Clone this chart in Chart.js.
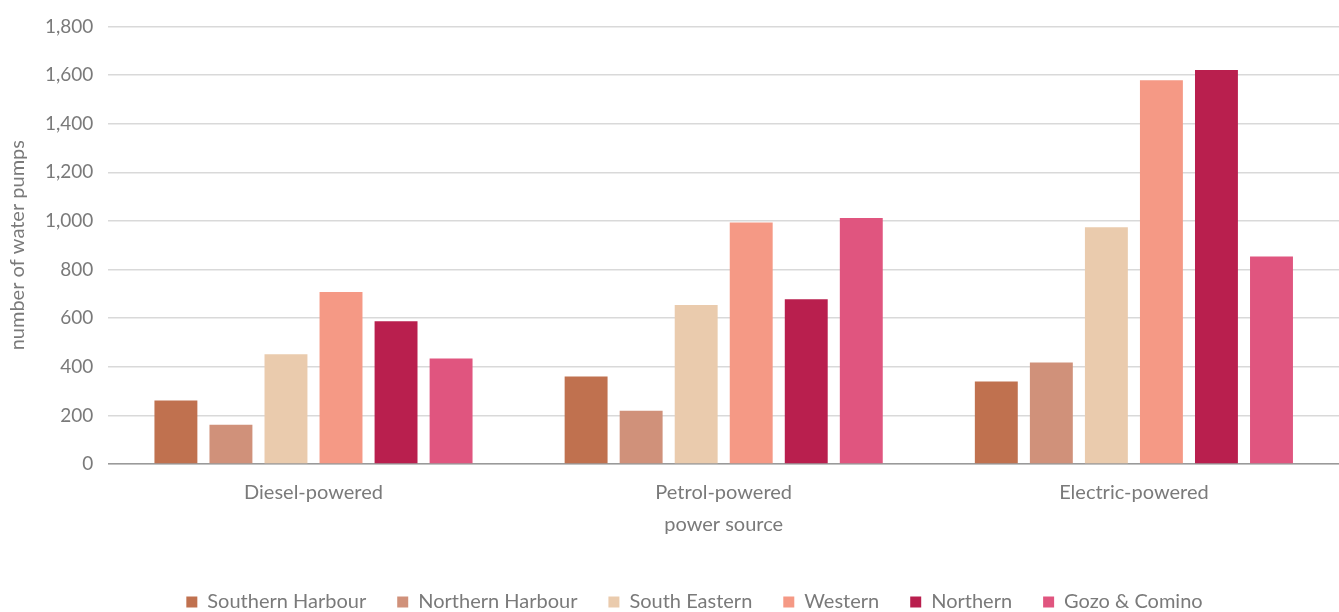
<!DOCTYPE html>
<html>
<head>
<meta charset="utf-8">
<script src="https://cdn.jsdelivr.net/npm/chart.js@4/dist/chart.umd.min.js"></script>
<style>
  html, body { margin: 0; padding: 0; background: #fff; }
  #wrap { width: 1339px; height: 612px; position: relative; }
</style>
</head>
<body>
<div id="wrap"><canvas id="chart"></canvas></div>
<script>
const categories = ['Diesel-powered', 'Petrol-powered', 'Electric-powered'];

const southernHarbour = [261, 360, 339];
const northernHarbour = [161, 219, 418];
const southEastern = [451, 654, 974];
const western = [707, 993, 1579];
const northern = [587, 678, 1621];
const gozoComino = [434, 1012, 854];

const regions = ['Southern Harbour', 'Northern Harbour', 'South Eastern', 'Western', 'Northern', 'Gozo & Comino'];
const colors = ['#C0714F', '#D0917A', '#EACBAD', '#F59985', '#B91F4E', '#E0557F'];
const series = [southernHarbour, northernHarbour, southEastern, western, northern, gozoComino];

const yTicks = [0, 200, 400, 600, 800, 1000, 1200, 1400, 1600, 1800];

const textColor = '#7a7a7a';
const fontFamily = 'Lato, "Open Sans", sans-serif';

// nudge the legend a bit to the right, like in the original
const legendShift = {
  id: 'legendShift',
  afterLayout(chart) {
    chart.legend.left += 22;
    chart.legend.right += 22;
  },
};

new Chart(document.getElementById('chart'), {
  type: 'bar',
  data: {
    labels: categories,
    datasets: series.map((values, i) => ({
      label: regions[i],
      data: values,
      backgroundColor: colors[i],
      borderWidth: 0,
      categoryPercentage: 0.805,
      barPercentage: 0.78,
    })),
  },
  options: {
    responsive: true,
    maintainAspectRatio: false,
    animation: false,
    layout: { padding: { left: 6, right: 0, top: 8, bottom: -10 } },
    plugins: {
      tooltip: { enabled: false },
      legend: {
        position: 'bottom',
        labels: {
          color: textColor,
          font: { family: fontFamily, size: 20 },
          boxWidth: 11,
          boxHeight: 11,
          padding: 31,
        },
      },
    },
    scales: {
      x: {
        grid: { display: false, drawTicks: false },
        border: { color: '#9a9a9a', width: 1.5 },
        ticks: { color: textColor, font: { family: fontFamily, size: 20 }, padding: 17 },
        title: {
          display: true,
          text: 'power source',
          color: textColor,
          font: { family: fontFamily, size: 20 },
          padding: { top: -9, bottom: 24 },
        },
      },
      y: {
        min: 0,
        max: 1800,
        afterBuildTicks: (axis) => { axis.ticks = yTicks.map((v) => ({ value: v })); },
        grid: { color: '#d9d9d9', lineWidth: 1.5, drawTicks: false },
        border: { display: false },
        ticks: { color: textColor, font: { family: fontFamily, size: 19 }, padding: 15 },
        title: {
          display: true,
          text: 'number of water pumps',
          color: textColor,
          font: { family: fontFamily, size: 20 },
          padding: { top: 0, bottom: 0 },
        },
      },
    },
  },
  plugins: [legendShift],
});
</script>
</body>
</html>
